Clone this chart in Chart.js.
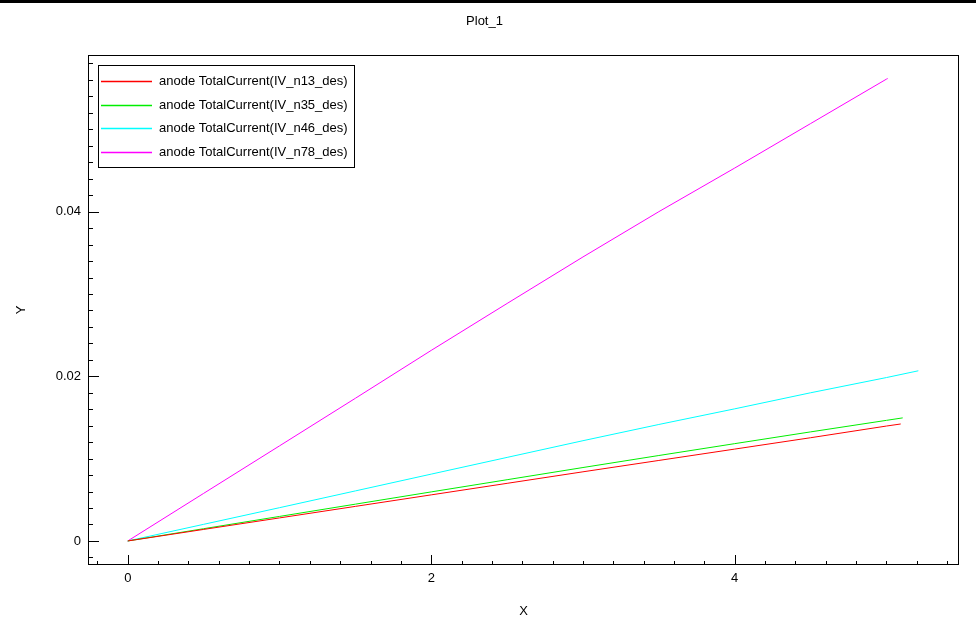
<!DOCTYPE html>
<html>
<head>
<meta charset="utf-8">
<script src="https://cdn.jsdelivr.net/npm/chart.js@4.4.1/dist/chart.umd.min.js"></script>
<style>
  html, body { margin: 0; padding: 0; background: #fff; }
  #wrap { width: 976px; height: 637px; }
</style>
</head>
<body>
<div id="wrap"><canvas id="plot"></canvas></div>
<script>
const seriesLabels = [
	"anode TotalCurrent(IV_n13_des)",
	"anode TotalCurrent(IV_n35_des)",
	"anode TotalCurrent(IV_n46_des)",
	"anode TotalCurrent(IV_n78_des)",
];
const seriesColors = ["#ff0000", "#00ee00", "#00ffff", "#ff00ff"];

const xN13 = [0, 0.5, 1, 1.5, 2, 2.5, 3, 3.5, 4, 4.5, 5, 5.094];
const yN13 = [0, 0.0014, 0.0028, 0.0042, 0.0056, 0.007, 0.0084, 0.00978, 0.01116, 0.01254, 0.01396, 0.01421];

const xN35 = [0, 0.5, 1, 1.5, 2, 2.5, 3, 3.5, 4, 4.5, 5, 5.107];
const yN35 = [0, 0.00149, 0.00298, 0.00447, 0.00596, 0.00744, 0.00892, 0.01038, 0.01182, 0.01325, 0.01465, 0.01495];

const xN46 = [0, 0.5, 1, 1.5, 2, 2.5, 3, 3.5, 4, 4.5, 5, 5.21];
const yN46 = [0, 0.00202, 0.00404, 0.00608, 0.00812, 0.01015, 0.01218, 0.01415, 0.01605, 0.018, 0.01985, 0.02067];

const xN78 = [0, 0.5, 1, 1.5, 2, 2.5, 3, 3.5, 4, 4.5, 5, 5.008];
const yN78 = [0, 0.00578, 0.01155, 0.01733, 0.02315, 0.02885, 0.0345, 0.04, 0.0453, 0.0507, 0.0561, 0.05617];

const xTicks = [0, 2, 4];
const yTicks = [0, 0.02, 0.04];
const xMinorStep = 0.2;
const yMinorStep = 0.002;

const toPoints = (xs, ys) => xs.map((x, i) => ({ x, y: ys[i] }));
const allX = [xN13, xN35, xN46, xN78];
const allY = [yN13, yN35, yN46, yN78];

const FONT = "'Liberation Sans', Arial, sans-serif";
Chart.defaults.font.family = FONT;
Chart.defaults.font.size = 13;
Chart.defaults.color = "#000";

// frame, inward ticks, boxed legend, top rule
const framePlugin = {
	id: "frame",
	afterDraw(chart) {
		const { ctx, chartArea: a, scales } = chart;
		ctx.save();
		ctx.fillStyle = "#000";
		ctx.fillRect(0, 0, chart.width, 3);

		ctx.strokeStyle = "#000";
		ctx.lineWidth = 1;
		ctx.strokeRect(a.left + 0.5, a.top + 0.5, a.right - a.left - 1, a.bottom - a.top - 1);

		ctx.beginPath();
		const xs = scales.x;
		const nx0 = Math.ceil(xs.min / xMinorStep);
		const nx1 = Math.floor(xs.max / xMinorStep);
		for (let n = nx0; n <= nx1; n++) {
			const v = n * xMinorStep;
			const major = xTicks.some((t) => Math.abs(t - v) < 1e-9);
			const px = Math.round(xs.getPixelForValue(v)) + 0.5;
			ctx.moveTo(px, a.bottom);
			ctx.lineTo(px, a.bottom - (major ? 10 : 4));
		}
		const ys = scales.y;
		const ny0 = Math.ceil(ys.min / yMinorStep);
		const ny1 = Math.floor(ys.max / yMinorStep);
		for (let n = ny0; n <= ny1; n++) {
			const v = n * yMinorStep;
			const major = yTicks.some((t) => Math.abs(t - v) < 1e-9);
			const py = Math.round(ys.getPixelForValue(v)) + 0.5;
			ctx.moveTo(a.left, py);
			ctx.lineTo(a.left + (major ? 11 : 5), py);
		}
		ctx.stroke();

		// legend
		const lx = a.left + 10;
		const ly = a.top + 10;
		ctx.font = "13px " + FONT;
		const widths = chart.data.datasets.map((d) => ctx.measureText(d.label).width);
		const boxW = Math.round(61 + Math.max(...widths) + 6);
		const rowH = 23.7;
		const boxH = Math.round(16 + rowH * (chart.data.datasets.length - 1) + 15);
		ctx.fillStyle = "#fff";
		ctx.fillRect(lx, ly, boxW, boxH);
		ctx.strokeStyle = "#000";
		ctx.strokeRect(Math.round(lx) + 0.5, Math.round(ly) + 0.5, boxW, boxH);
		ctx.textBaseline = "middle";
		ctx.textAlign = "left";
		chart.data.datasets.forEach((d, i) => {
			const ry = Math.round(ly + 16 + i * rowH);
			ctx.strokeStyle = d.borderColor;
			ctx.lineWidth = 1.4;
			ctx.beginPath();
			ctx.moveTo(lx + 3, ry + 0.5);
			ctx.lineTo(lx + 54, ry + 0.5);
			ctx.stroke();
			ctx.fillStyle = "#000";
			ctx.fillText(d.label, lx + 61, ry + 0.5);
		});
		ctx.restore();
	},
};

new Chart(document.getElementById("plot"), {
	type: "line",
	data: {
		datasets: seriesLabels.map((label, i) => ({
			label,
			data: toPoints(allX[i], allY[i]),
			borderColor: seriesColors[i],
			backgroundColor: seriesColors[i],
			borderWidth: 1,
			pointRadius: 0,
			tension: 0,
		})),
	},
	options: {
		responsive: true,
		maintainAspectRatio: false,
		animation: false,
		layout: { padding: { left: 10, right: 17, top: 0, bottom: 0 } },
		plugins: {
			legend: { display: false },
			tooltip: { enabled: false },
			title: {
				display: true,
				text: "Plot_1",
				color: "#000",
				font: { size: 13, weight: "normal" },
				padding: { top: 13.5, bottom: 25.9 },
			},
		},
		scales: {
			x: {
				type: "linear",
				position: "bottom",
				min: -0.262,
				max: 5.478,
				grid: { display: false, drawTicks: false },
				border: { display: false },
				afterBuildTicks: (scale) => {
					scale.ticks = xTicks.map((value) => ({ value }));
				},
				afterFit: (scale) => {
					scale.height = 72;
				},
				ticks: { padding: 6, color: "#000", autoSkip: false, maxRotation: 0 },
				title: { display: true, text: "X", color: "#000", padding: { bottom: 18 } },
			},
			y: {
				type: "linear",
				position: "left",
				min: -0.00292,
				max: 0.05903,
				grid: { display: false, drawTicks: false },
				border: { display: false },
				afterBuildTicks: (scale) => {
					scale.ticks = yTicks.map((value) => ({ value }));
				},
				afterFit: (scale) => {
					scale.width = 78;
				},
				ticks: { padding: 7, color: "#000", autoSkip: false },
				title: { display: true, text: "Y", color: "#000", padding: { top: 4 } },
			},
		},
	},
	plugins: [framePlugin],
});
</script>
</body>
</html>
